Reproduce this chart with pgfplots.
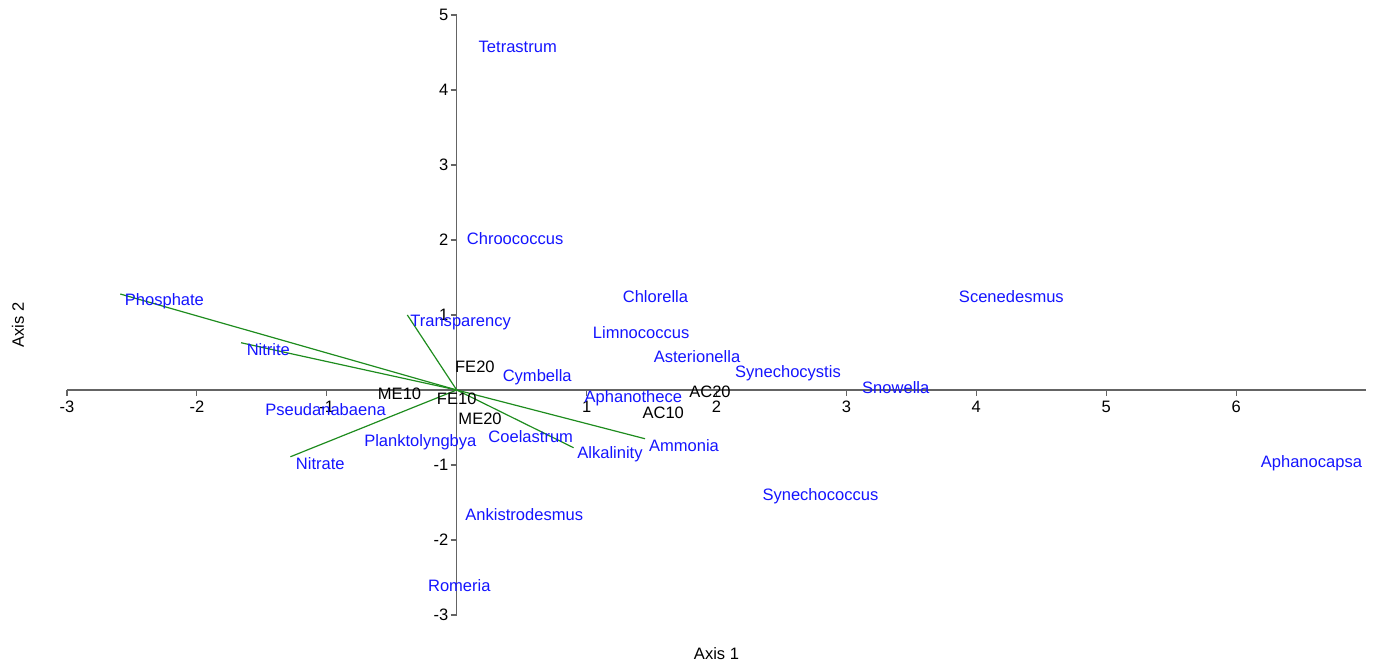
\documentclass[border=0pt]{standalone}
\usepackage{fontspec}
\setmainfont{Liberation Sans}
\usepackage{pgfplots}
\usepackage{pgfplotstable}
\pgfplotsset{compat=1.18}
\definecolor{blueT}{RGB}{20,20,255}
\definecolor{envgreen}{RGB}{30,140,30}
\definecolor{axgray}{RGB}{100,100,100}
\newcommand\fsz{\fontsize{12.4}{14}\selectfont}

\pgfplotstableread{
x y label
0.47 4.59 Tetrastrum
0.45 2.04 Chroococcus
1.53 1.27 Chlorella
4.27 1.27 Scenedesmus
1.42 0.79 Limnococcus
1.85 0.47 Asterionella
2.55 0.24 Synechocystis
3.38 0.05 Snowella
0.62 0.19 Cymbella
1.36 -0.09 Aphanothece
0.57 -0.60 Coelastrum
1.18 -0.83 Alkalinity
1.75 -0.72 Ammonia
-0.28 -0.67 Planktolyngbya
-1.01 -0.24 Pseudanabaena
-1.05 -0.96 Nitrate
-1.45 0.56 Nitrite
-2.25 1.21 Phosphate
0.03 0.92 Transparency
2.80 -1.40 Synechococcus
0.52 -1.64 Ankistrodesmus
0.02 -2.59 Romeria
6.58 -0.96 Aphanocapsa
}\species

\pgfplotstableread{
x y label
0.14 0.33 FE20
-0.44 -0.03 ME10
0.00 -0.10 FE10
0.18 -0.36 ME20
1.95 0.00 AC20
1.59 -0.29 AC10
}\sites

\begin{document}
\begin{tikzpicture}
\begin{axis}[name=ax, scale only axis, width=974.25pt, height=450pt,
  xmin=-3, xmax=7, ymin=-3, ymax=5,
  axis lines=middle,
  axis line style={axgray, line width=0.8pt, -},
  xtick={-3,-2,-1,1,2,3,4,5,6},
  xticklabels={-3,-2,-1,1,2,3,4,5,6},
  ytick={-3,-2,-1,1,2,3,4,5},
  yticklabels={-3,-2,-1,1,2,3,4,5},
  tick align=outside,
  major tick length=4.5pt,
  tick style={axgray, line width=0.8pt},
  xticklabel style={font=\fsz, anchor=north, inner sep=2pt, yshift=-1.8pt},
  yticklabel style={font=\fsz, anchor=east, inner sep=1.5pt},
  clip=false,
  xlabel={Axis 1}, ylabel={Axis 2},
  xlabel style={at={(axis description cs:0.5,-0.065)}, anchor=center, font=\fsz},
  ylabel style={at={(axis description cs:-0.0377,0.483)}, anchor=center, rotate=90, font=\fsz},
]
\addplot[envgreen, line width=0.9pt] coordinates {(0,0) (-2.59,1.28)};
\addplot[envgreen, line width=0.9pt] coordinates {(0,0) (-1.66,0.63)};
\addplot[envgreen, line width=0.9pt] coordinates {(0,0) (-0.38,1.00)};
\addplot[envgreen, line width=0.9pt] coordinates {(0,0) (-1.28,-0.89)};
\addplot[envgreen, line width=0.9pt] coordinates {(0,0) (1.45,-0.65)};
\addplot[envgreen, line width=0.9pt] coordinates {(0,0) (0.90,-0.77)};
\addplot[draw=none, mark=none, nodes near coords, point meta=explicit symbolic,
  nodes near coords style={anchor=center, text=blueT, font=\fsz, inner sep=0pt, yshift=-1.2pt}]
  table[meta=label] {\species};
\addplot[draw=none, mark=none, nodes near coords, point meta=explicit symbolic,
  nodes near coords style={anchor=center, text=black, font=\fsz, inner sep=0pt, yshift=-1pt}]
  table[meta=label] {\sites};
\end{axis}
\pgfresetboundingbox
\path[use as bounding box] ([xshift=-50.25pt,yshift=-36pt]ax.south west) rectangle ([xshift=5.25pt,yshift=11.25pt]ax.north east);
\end{tikzpicture}
\end{document}
